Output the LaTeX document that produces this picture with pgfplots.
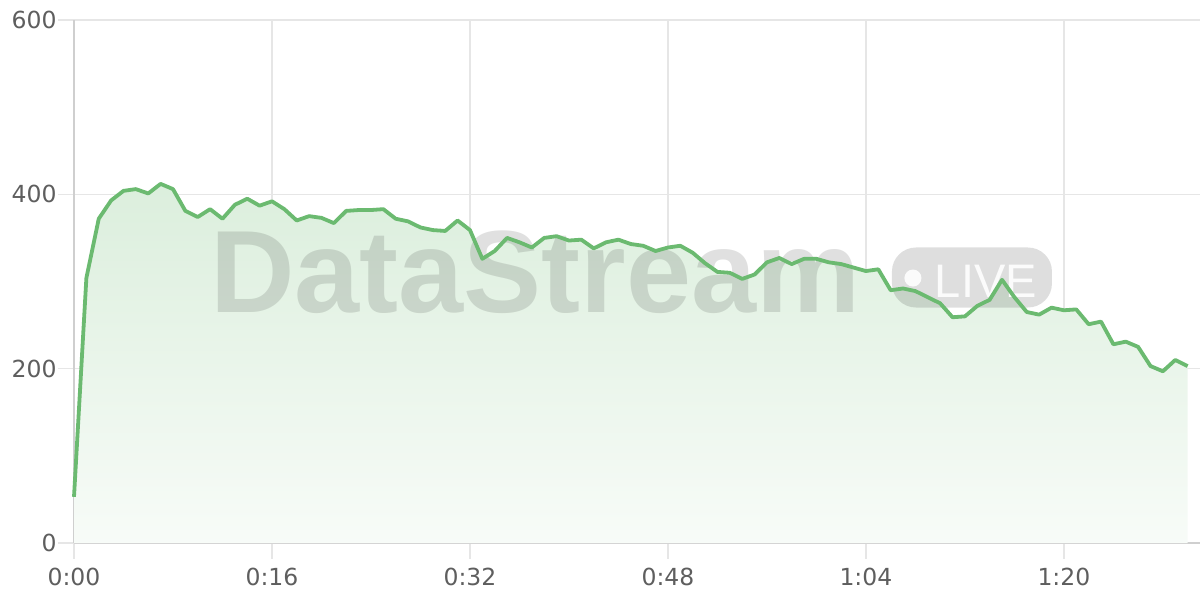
\documentclass[border=0pt]{standalone}
\usepackage{fontspec}
\setmainfont{DejaVu Sans}
\newfontfamily\wmfont{Liberation Sans}
\usepackage{pgfplots}
\pgfplotsset{compat=1.18}
\usepackage{pgfplotstable}

\definecolor{lineclr}{HTML}{6BBA70}
\definecolor{gridclr}{HTML}{E6E6E6}
\definecolor{axisclr}{HTML}{CFCFCF}
\definecolor{labelclr}{HTML}{5E5E5E}

% seconds, value
\pgfplotstableread{
t v
0 53
1 304
2 372
3 393
4 404
5 406
6 401
7 412
8 406
9 381
10 374
11 383
12 372
13 388
14 395
15 387
16 392
17 383
18 370
19 375
20 373
21 367
22 381
23 382
24 382
25 383
26 372
27 369
28 362
29 359
30 358
31 370
32 359
33 326
34 335
35 350
36 345
37 339
38 350
39 352
40 347
41 348
42 338
43 345
44 348
45 343
46 341
47 335
48 339
49 341
50 333
51 321
52 311
53 310
54 303
55 308
56 322
57 327
58 320
59 326
60 326
61 322
62 320
63 316
64 312
65 314
66 290
67 292
68 289
69 282
70 275
71 259
72 260
73 272
74 279
75 302
76 282
77 265
78 262
79 270
80 267
81 268
82 251
83 254
84 228
85 231
86 225
87 203
88 197
89 210
90 203
}\datatable

\begin{document}
\begin{tikzpicture}
\begin{axis}[
    name=ax,
    scale only axis,
    width=1126bp, height=523bp,
    xmin=0, xmax=91,
    ymin=0, ymax=600,
    xtick={0,16,32,48,64,80},
    xticklabels={0:00,0:16,0:32,0:48,1:04,1:20},
    ytick={0,200,400,600},
    axis x line*=bottom,
    axis y line*=left,
    axis line style={draw=axisclr, line width=1.5bp, -},
    grid=major,
    major grid style={draw=gridclr, line width=1.2bp},
    tick align=outside,
    major tick length=16bp,
    tick style={draw=gridclr, line width=1.2bp},
    ticklabel style={font=\fontsize{23.5bp}{26bp}\selectfont, text=labelclr},
    yticklabel style={xshift=2bp},
    xticklabel style={yshift=-6bp},
    /pgf/number format/assume math mode=true,
    clip=false,
]
\addplot [draw=none, top color=lineclr!24!white, bottom color=lineclr!5!white]
    table [x=t, y=v] {\datatable} \closedcycle;

\node [anchor=base, text=black, opacity=0.12,
    font=\wmfont\bfseries\fontsize{117bp}{117bp}\selectfont]
    at (axis cs:37.3,265) {DataStream};
\node [fill=black, opacity=0.13, rounded corners=24bp,
    minimum width=160bp, minimum height=60bp, inner sep=0pt]
    at (axis cs:72.57,304.6) {};
\fill [white, opacity=0.9] (axis cs:67.8,304) circle (8.5bp);
\node [anchor=base, text=white, opacity=0.9,
    font=\wmfont\fontsize{47bp}{47bp}\selectfont]
    at (axis cs:73.7,282) {LIVE};

\addplot [draw=lineclr, line width=3.8bp, line join=round, mark=none]
    table [x=t, y=v] {\datatable};
\end{axis}
\pgfresetboundingbox
\path ([shift={(-74bp,-57bp)}]ax.south west) rectangle ([shift={(0bp,20bp)}]ax.north east);
\end{tikzpicture}
\end{document}
